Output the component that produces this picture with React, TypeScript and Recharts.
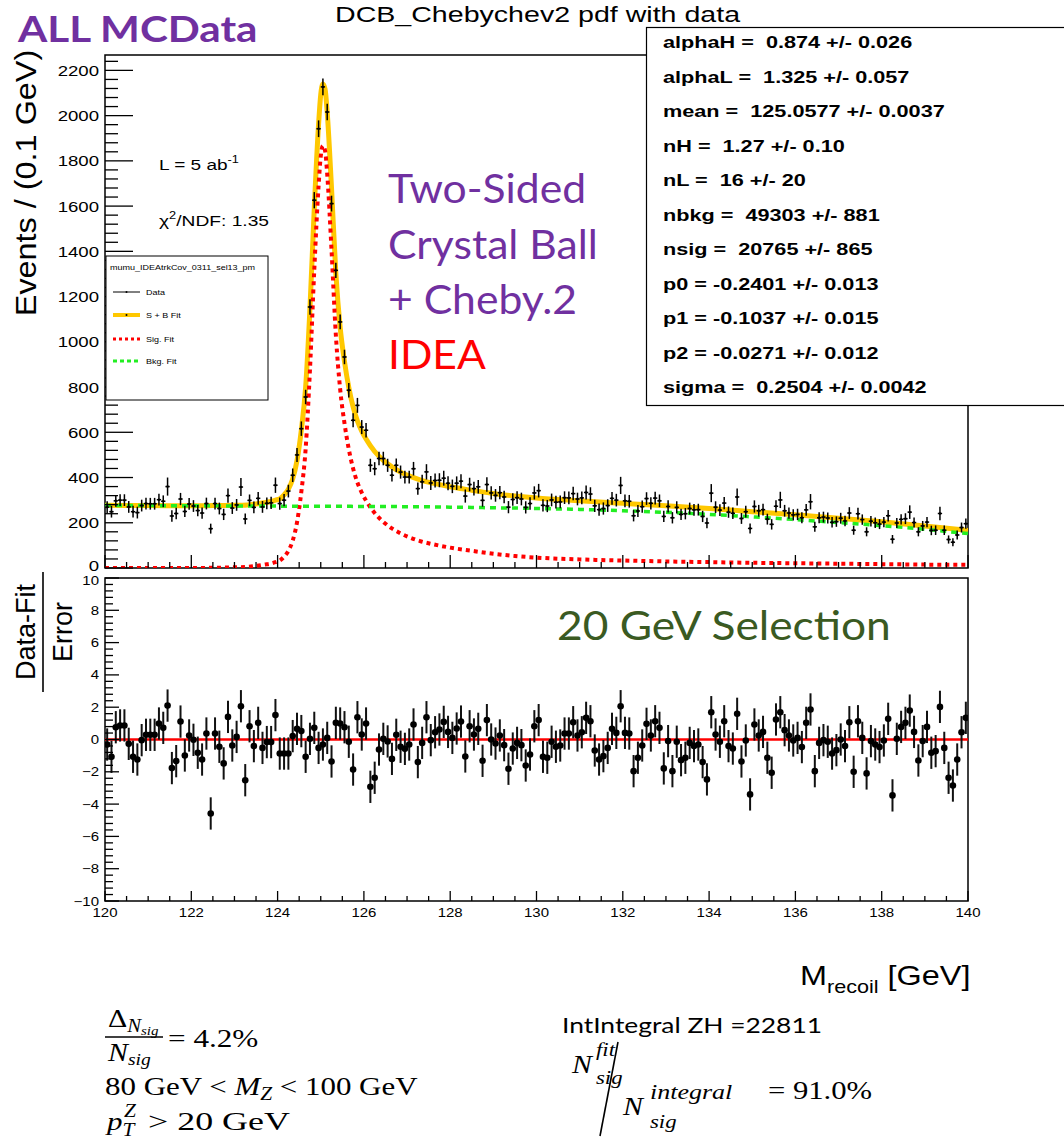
import React from 'react';
import {
  ComposedChart, Line, Scatter, ErrorBar, XAxis, YAxis, ReferenceArea, ReferenceLine,
} from 'recharts';

// binning of the recoil-mass histogram
const binLo = 120;
const binWidth = 0.1;

// events per 0.1 GeV bin
const events = [
  269, 249, 297, 300, 300, 270, 249, 245, 276, 285, 284, 284, 302, 295, 360, 230, 241, 305, 250, 283,
  274, 254, 243, 285, 174, 285, 263, 237, 320, 265, 279, 358, 217, 299, 268, 308, 270, 286,
  288, 366, 285, 300, 340, 410, 500, 616, 756, 1154, 1626, 1942, 2127, 2016, 1611, 1316, 1088, 933, 786, 653,
  719, 623, 609, 454, 439, 484, 484, 454, 410, 454, 424, 402, 402, 439, 351,
  381, 425, 376, 387, 388, 397, 375, 361, 375, 384, 318, 369, 351, 359, 299, 369, 332, 321, 333, 314,
  269, 303, 311, 305, 268, 285, 332, 342, 277, 274, 301, 291, 292, 311, 310, 329, 305, 310, 334, 327,
  275, 258, 263, 276, 308, 300, 365, 297, 295, 231, 252, 271, 307, 286, 309, 297, 228, 272, 222, 268,
  237, 240, 263, 257, 258, 228, 199, 331, 269, 256, 287, 247, 242, 314, 219, 249, 175, 272, 253, 258,
  216, 193, 273, 301, 253, 243, 235, 237, 222, 257, 293, 182, 222, 225, 221, 202, 205, 220, 208, 243,
  167, 240, 214, 160, 207, 200, 194, 203, 231, 127, 199, 215, 218, 247, 201, 160, 186, 203, 166, 167,
  241, 167, 126, 114, 146, 179, 196,
];

const eventErr = [
  26, 26, 26, 26, 26, 26, 26, 26, 26, 26, 26, 26, 26, 26, 40, 25, 25, 27, 25, 26,
  26, 25, 25, 26, 22, 26, 26, 25, 32, 26, 26, 40, 24, 26, 26, 28, 26, 26,
  27, 34, 27, 27, 28, 30, 31, 32, 32, 34, 36, 37, 37, 37, 35, 34, 33, 32, 32, 31,
  33, 31, 32, 29, 29, 30, 30, 29, 28, 30, 29, 28, 28, 30, 27,
  31, 34, 31, 31, 31, 33, 31, 30, 30, 31, 29, 30, 30, 30, 28, 32, 29, 28, 29, 28,
  27, 28, 28, 28, 27, 28, 29, 30, 27, 27, 28, 28, 28, 28, 28, 30, 28, 28, 31, 30,
  27, 27, 27, 28, 28, 28, 38, 28, 28, 25, 26, 27, 28, 27, 28, 28, 25, 27, 25, 27,
  25, 25, 26, 26, 26, 25, 23, 40, 26, 26, 27, 25, 25, 38, 24, 26, 22, 27, 26, 26,
  24, 23, 27, 36, 26, 25, 25, 25, 24, 26, 34, 22, 24, 24, 24, 23, 23, 24, 23, 26,
  20, 26, 23, 20, 23, 23, 22, 23, 25, 19, 22, 23, 24, 30, 22, 20, 22, 23, 21, 21,
  30, 21, 18, 18, 20, 22, 23,
];

// (data - fit) / error, bottom pad
const pulls = [
  -0.31, -1.07, 0.76, 0.87, 0.87, -0.27, -1.07, -1.24, -0.04, 0.29, 0.29, 0.29, 0.99, 0.72, 2.10, -1.77, -1.34, 1.11, -0.99, 0.25,
  -0.02, -0.82, -1.24, 0.37, -4.58, 0.37, -0.45, -1.48, 1.40, -0.37, 0.16, 2.06, -2.52, 0.82, -0.41, 1.03, -0.52, -0.16, -0.16, 1.51,
  -0.87, -0.87, -0.87, 0.21, 0.66, 0.52, -1.07, 0.04, 0.72, -0.52, -0.31, 0.10, -1.36, 1.03, 0.99, 0.76, -0.14, -1.86, 1.38, 0.31,
  0.99, -2.93, -2.37, -0.62, 0.04, -0.12, -1.20, 0.29, -0.45, -0.58, -0.31, 0.93, -1.40, -0.21, 1.38, -0.04, 0.45, 0.62, 1.09, 0.47,
  0.10, 0.68, 1.11, -1.05, 0.82, 0.31, 0.66, -1.32, 1.20, 0.00, -0.25, 0.25, -0.35, -1.81, -0.56, -0.21, -0.35, -1.61, -0.93, 0.82,
  1.20, -1.07, -1.13, -0.14, -0.45, -0.37, 0.37, 0.37, 1.07, 0.25, 0.45, 1.34, 1.13, -0.68, -1.24, -1.03, -0.52, 0.66, 0.41, 2.06,
  0.41, 0.37, -1.96, -1.13, -0.37, 0.97, 0.25, 1.13, 0.72, -1.79, -0.10, -1.96, -0.14, -1.28, -1.13, -0.21, -0.41, -0.31, -1.40, -2.47,
  1.69, 0.31, -0.14, 1.13, -0.41, -0.56, 1.59, -1.36, -0.06, -3.40, 0.93, 0.25, 0.47, -1.13, -2.06, 1.24, 1.69, 0.58, 0.25, -0.06,
  0.10, -0.47, 1.03, 1.86, -1.96, -0.21, -0.04, -0.14, -0.87, -0.66, 0.00, -0.41, 1.07, -2.00, 1.13, 0.10, -2.10, -0.10, -0.31, -0.47,
  -0.06, 1.28, -3.46, 0.04, 0.78, 1.03, 1.79, 0.47, -1.30, -0.10, 0.78, -0.82, -0.72, 2.02, -0.52, -2.37, -2.85, -1.24, 0.45, 1.34,
];

// fit curves sampled along the mass axis
const fitX = [
  120, 121, 122, 122.5, 123, 123.3, 123.5, 123.7, 123.85, 123.95, 124.05, 124.15, 124.25, 124.35, 124.45,
  124.55, 124.65, 124.75, 124.85, 124.95, 125.0, 125.05, 125.1, 125.15, 125.25, 125.35, 125.45, 125.55,
  125.65, 125.75, 125.85, 125.95, 126.05, 126.25, 126.45, 126.65, 126.85, 127.05, 127.3, 127.6, 128,
  128.5, 129, 129.5, 130, 131, 132, 133, 134, 135, 136, 137, 138, 139, 140,
];
const sbFit = [
  277, 276, 275, 276, 277, 279, 283, 289, 294, 300, 306, 323, 349, 394, 475,
  610, 800, 1149, 1591, 1963, 2093, 2140, 2118, 2013, 1678, 1303, 1063, 913,
  798, 712, 650, 605, 570, 515, 476, 447, 424, 407, 390, 375, 359,
  344, 329, 318, 309, 297, 286, 275, 263, 249, 235, 220, 204, 186, 166,
];
const sigFit = [
  0, 0, 0, 1, 3, 5, 9, 15, 20, 26, 33, 50, 76, 121, 202,
  337, 527, 876, 1318, 1690, 1820, 1867, 1845, 1740, 1405, 1030, 790, 640,
  525, 440, 378, 333, 298, 243, 204, 175, 153, 136, 119, 105, 90,
  76, 63, 53, 46, 38, 33, 29, 26, 23, 21, 19, 17, 15, 14,
];
const bkgFit = [
  277, 276, 275, 275, 274, 274, 274, 274, 274, 274, 273, 273, 273, 273, 273,
  273, 273, 273, 273, 273, 273, 273, 273, 273, 273, 273, 273, 273,
  273, 272, 272, 272, 272, 272, 272, 272, 271, 271, 271, 270, 269,
  268, 266, 265, 263, 259, 253, 246, 237, 226, 214, 201, 187, 171, 152,
];

const xMajor = [120, 122, 124, 126, 128, 130, 132, 134, 136, 138, 140];
const topYMajor = [0, 200, 400, 600, 800, 1000, 1200, 1400, 1600, 1800, 2000, 2200];
const pullMajor = [-10, -8, -6, -4, -2, 0, 2, 4, 6, 8, 10];

const statLines = [
  'alphaH =  0.874 +/- 0.026',
  'alphaL =  1.325 +/- 0.057',
  'mean =  125.0577 +/- 0.0037',
  'nH =  1.27 +/- 0.10',
  'nL =  16 +/- 20',
  'nbkg =  49303 +/- 881',
  'nsig =  20765 +/- 865',
  'p0 = -0.2401 +/- 0.013',
  'p1 = -0.1037 +/- 0.015',
  'p2 = -0.0271 +/- 0.012',
  'sigma =  0.2504 +/- 0.0042',
];

const TOP_MAX = 2268;
const HELV = 'Liberation Sans, Arial, sans-serif';
const CAL = 'Lato, Open Sans, sans-serif';
const SERIF = 'Liberation Serif, DejaVu Serif, serif';

const dataRows = events.map((v, i) => ({
  x: binLo + (i + 0.5) * binWidth, y: v, err: eventErr[i], xerr: binWidth / 2,
}));
const pullRows = pulls.map((v, i) => ({ x: binLo + (i + 0.5) * binWidth, y: v, err: 1 }));
const fitRows = fitX.map((x, i) => ({ x, sb: sbFit[i], sig: sigFit[i], bkg: bkgFit[i] }));

const xMinor = Array.from({ length: 41 }, (_, i) => 120 + i * 0.5);
const topYMinor = Array.from({ length: 57 }, (_, i) => i * 40);
const pullMinor = Array.from({ length: 51 }, (_, i) => Math.round((-10 + i * 0.4) * 10) / 10);

const isIn = (list: number[], v: number) => list.some((m) => Math.abs(m - v) < 1e-6);
const fmtNum = (v: number) => (v < 0 ? '\u2212' + Math.abs(v) : String(v));

// the original canvas was stretched sideways, so text is widened with sx
function ST({ x, y, sx, children, ...rest }: any) {
  return (
    <g transform={`translate(${x},${y}) scale(${sx},1)`}>
      <text x={0} y={0} {...rest}>{children}</text>
    </g>
  );
}

// inward ticks, ROOT style; edgeNudge moves the label at one end value a little
function yTick(majors: number[], majLen: number, minLen: number, fs: number, edgeVal: number, edgeNudge: number) {
  return (props: any) => {
    const { x, y, payload } = props;
    const major = isIn(majors, payload.value);
    const ly = payload.value === edgeVal ? y + edgeNudge : y;
    return (
      <g>
        <line x1={x} x2={x + (major ? majLen : minLen)} y1={y} y2={y} stroke="#000" strokeWidth={1.3} />
        {major && (
          <g transform={`translate(${x - 6},${ly}) scale(1.2,1)`}>
            <text x={0} y={0} dy="0.36em" textAnchor="end" fontSize={fs} fontFamily={HELV} fill="#000">
              {fmtNum(payload.value)}
            </text>
          </g>
        )}
      </g>
    );
  };
}

function xTick(majLen: number, minLen: number, labels: boolean) {
  return (props: any) => {
    const { x, y, payload } = props;
    const major = isIn(xMajor, payload.value);
    return (
      <g>
        <line x1={x} x2={x} y1={y} y2={y - (major ? majLen : minLen)} stroke="#000" strokeWidth={1.3} />
        {labels && major && (
          <g transform={`translate(${x},${y + 16}) scale(1.2,1)`}>
            <text x={0} y={0} textAnchor="middle" fontSize={12.5} fontFamily={HELV} fill="#000">
              {payload.value}
            </text>
          </g>
        )}
      </g>
    );
  };
}

function TopPad() {
  return (
    <ComposedChart width={1064} height={600} margin={{ top: 55, right: 96, bottom: 31, left: 104 }}>
      <XAxis dataKey="x" type="number" domain={[120, 140]} ticks={xMinor} interval={0}
        tickSize={0} tickMargin={0} height={1} axisLine={false} tickLine={false} tick={xTick(13, 6, false)} allowDataOverflow />
      <YAxis type="number" domain={[0, TOP_MAX]} ticks={topYMinor} interval={0} width={1}
        tickSize={0} tickMargin={0} axisLine={false} tickLine={false} tick={yTick(topYMajor, 28, 13, 15.5, 0, -3)} allowDataOverflow />
      <ReferenceArea x1={120} x2={140} y1={0} y2={TOP_MAX} fill="none" stroke="#000" strokeWidth={1.5} />
      <Line data={fitRows} dataKey="sb" type="monotone" stroke="#ffc800" strokeWidth={5} dot={false} isAnimationActive={false} />
      <Line data={fitRows} dataKey="sig" type="monotone" stroke="#ff0000" strokeWidth={4} strokeDasharray="4 4" dot={false} isAnimationActive={false} />
      <Line data={fitRows} dataKey="bkg" type="monotone" stroke="#22ee22" strokeWidth={3.5} strokeDasharray="6 5" dot={false} isAnimationActive={false} />
      <Scatter data={dataRows} dataKey="y" isAnimationActive={false}
        shape={(p: any) => <circle cx={p.cx} cy={p.cy} r={1.2} fill="#000" />}>
        <ErrorBar dataKey="err" direction="y" width={0} stroke="#000" strokeWidth={1.5} />
        <ErrorBar dataKey="xerr" direction="x" width={0} stroke="#000" strokeWidth={1.5} />
      </Scatter>
    </ComposedChart>
  );
}

function PullPad() {
  return (
    <ComposedChart width={1064} height={370} margin={{ top: 18, right: 96, bottom: 28, left: 104 }}>
      <XAxis dataKey="x" type="number" domain={[120, 140]} ticks={xMinor} interval={0}
        tickSize={0} tickMargin={0} height={1} axisLine={false} tickLine={false} tick={xTick(10, 5, true)} allowDataOverflow />
      <YAxis type="number" domain={[-10, 10]} ticks={pullMinor} interval={0} width={1}
        tickSize={0} tickMargin={0} axisLine={false} tickLine={false} tick={yTick(pullMajor, 14, 8, 12.5, 10, 2)} allowDataOverflow />
      <ReferenceArea x1={120} x2={140} y1={-10} y2={10} fill="none" stroke="#000" strokeWidth={1.5} />
      <ReferenceLine y={0} stroke="#ff0000" strokeWidth={2.5} />
      <Scatter data={pullRows} dataKey="y" isAnimationActive={false}
        shape={(p: any) => <circle cx={p.cx} cy={p.cy} r={3.3} fill="#000" />}>
        <ErrorBar dataKey="err" direction="y" width={0} stroke="#111" strokeWidth={2} />
      </Scatter>
    </ComposedChart>
  );
}

function Overlay() {
  return (
    <svg width={1064} height={1141} style={{ position: 'absolute', left: 0, top: 0, pointerEvents: 'none' }}>
      <ST x={18} y={42} sx={1.14} fontFamily={CAL} fontWeight={700} fontSize={37} fill="#7030a0">ALL MCData</ST>
      <ST x={335} y={22} sx={1.33} fontFamily={HELV} fontSize={21.5}>DCB_Chebychev2 pdf with data</ST>

      {/* fit parameter box */}
      <rect x={646.5} y={27.5} width={430} height={378} fill="#fff" stroke="#000" strokeWidth={1.2} />
      {statLines.map((s, i) => (
        <ST key={s} x={663} y={48 + i * 34.5} sx={1.29} fontFamily={HELV} fontWeight={700} fontSize={16.8}
          style={{ whiteSpace: 'pre' }}>{s}</ST>
      ))}

      {/* axis titles */}
      <g transform="translate(36,183) rotate(-90) scale(1.08,1)">
        <text x={0} y={0} textAnchor="middle" fontFamily={HELV} fontSize={30}>Events / (0.1 GeV)</text>
      </g>
      <g transform="translate(42,632) rotate(-90)">
        <text x={0} y={-7} textAnchor="middle" fontFamily={HELV} fontSize={27}>Data-Fit</text>
        <line x1={-60} x2={60} y1={1} y2={1} stroke="#000" strokeWidth={1.6} />
        <text x={0} y={30} textAnchor="middle" fontFamily={HELV} fontSize={27}>Error</text>
      </g>
      <ST x={800} y={985} sx={1.2} fontFamily={HELV} fontSize={27}>
        M<tspan fontSize={18} dy={8}>recoil</tspan><tspan dy={-8}> [GeV]</tspan>
      </ST>

      {/* annotations */}
      <ST x={159} y={170} sx={1.27} fontFamily={HELV} fontSize={15}>
        L = 5 ab<tspan fontSize={10} dy={-7}>-1</tspan>
      </ST>
      <ST x={159} y={226} sx={1.28} fontFamily={HELV} fontSize={15}>
        χ<tspan fontSize={10} dy={-7}>2</tspan><tspan dy={7}>/NDF: 1.35</tspan>
      </ST>
      <ST x={388} y={203} sx={1.04} fontFamily={CAL} fontSize={41} fill="#7030a0">Two-Sided</ST>
      <ST x={388} y={259} sx={1.04} fontFamily={CAL} fontSize={41} fill="#7030a0">Crystal Ball</ST>
      <ST x={388} y={314} sx={1.04} fontFamily={CAL} fontSize={41} fill="#7030a0">+ Cheby.2</ST>
      <ST x={388} y={369} sx={1.04} fontFamily={CAL} fontSize={41} fill="#ff0000">IDEA</ST>
      <ST x={557} y={640} sx={1.08} fontFamily={CAL} fontSize={41} fill="#3a5a22">20 GeV Selection</ST>

      {/* legend */}
      <rect x={106} y={256} width={162} height={144} fill="#fff" stroke="#000" strokeWidth={1} />
      <ST x={110} y={270} sx={1.2} fontFamily={HELV} fontSize={7.5}>mumu_IDEAtrkCov_0311_sel13_pm</ST>
      <line x1={113} x2={140} y1={292} y2={292} stroke="#000" strokeWidth={1} />
      <circle cx={126.5} cy={292} r={1} fill="#000" />
      <ST x={146} y={295} sx={1.2} fontFamily={HELV} fontSize={7.5}>Data</ST>
      <line x1={113} x2={140} y1={315} y2={315} stroke="#ffc800" strokeWidth={4} />
      <circle cx={126.5} cy={315} r={1} fill="#000" />
      <ST x={146} y={318} sx={1.2} fontFamily={HELV} fontSize={7.5}>S + B Fit</ST>
      <line x1={113} x2={140} y1={339} y2={339} stroke="#ff0000" strokeWidth={3} strokeDasharray="3 3" />
      <ST x={146} y={342} sx={1.2} fontFamily={HELV} fontSize={7.5}>Sig. Fit</ST>
      <line x1={113} x2={140} y1={361} y2={361} stroke="#22ee22" strokeWidth={3} strokeDasharray="4 3" />
      <ST x={146} y={364} sx={1.2} fontFamily={HELV} fontSize={7.5}>Bkg. Fit</ST>

      {/* bottom notes */}
      <g fontFamily={SERIF} fill="#000">
        <ST x={108} y={1027} sx={1.15} fontSize={26}>Δ<tspan fontStyle="italic" fontSize={18} dy={5}>N</tspan><tspan fontStyle="italic" fontSize={13} dy={3}>sig</tspan></ST>
        <line x1={105} x2={163} y1={1037} y2={1037} stroke="#000" strokeWidth={1.6} />
        <ST x={108} y={1061} sx={1.15} fontSize={26} fontStyle="italic">N<tspan fontSize={17} dy={4}>sig</tspan></ST>
        <ST x={168} y={1047} sx={1.2} fontSize={26}>= 4.2%</ST>
        <ST x={105} y={1095} sx={1.19} fontSize={26}>80 GeV &lt; <tspan fontStyle="italic">M</tspan><tspan fontStyle="italic" fontSize={18} dy={5}>Z</tspan><tspan dy={-5}> &lt; 100 GeV</tspan></ST>
        <ST x={107} y={1130} sx={1.19} fontSize={26} fontStyle="italic">p<tspan fontSize={18} dy={6}>T</tspan></ST>
        <ST x={124} y={1117} sx={1.19} fontSize={18} fontStyle="italic">Z</ST>
        <ST x={148} y={1130} sx={1.38} fontSize={26}>&gt; 20 GeV</ST>
        <ST x={572} y={1073} sx={1.15} fontSize={26} fontStyle="italic">N</ST>
        <ST x={596} y={1056} sx={1.2} fontSize={19} fontStyle="italic">fit</ST>
        <ST x={596} y={1084} sx={1.2} fontSize={19} fontStyle="italic">sig</ST>
        <line x1={618} x2={600} y1={1042} y2={1136} stroke="#000" strokeWidth={1.6} />
        <ST x={623} y={1115} sx={1.15} fontSize={26} fontStyle="italic">N</ST>
        <ST x={650} y={1099} sx={1.3} fontSize={20} fontStyle="italic">integral</ST>
        <ST x={650} y={1128} sx={1.2} fontSize={19} fontStyle="italic">sig</ST>
        <ST x={768} y={1099} sx={1.18} fontSize={26}>= 91.0%</ST>
      </g>
      <ST x={562} y={1033} sx={1.2} fontFamily={CAL} fontSize={22}>IntIntegral ZH =22811</ST>
    </svg>
  );
}

export default function App() {
  return (
    <div style={{ position: 'absolute', left: 0, top: 0, width: 1064, height: 1141, background: '#fff', overflow: 'hidden' }}>
      <div style={{ position: 'absolute', left: 0, top: 0 }}>
        <TopPad />
      </div>
      <div style={{ position: 'absolute', left: 0, top: 560 }}>
        <PullPad />
      </div>
      <Overlay />
    </div>
  );
}
